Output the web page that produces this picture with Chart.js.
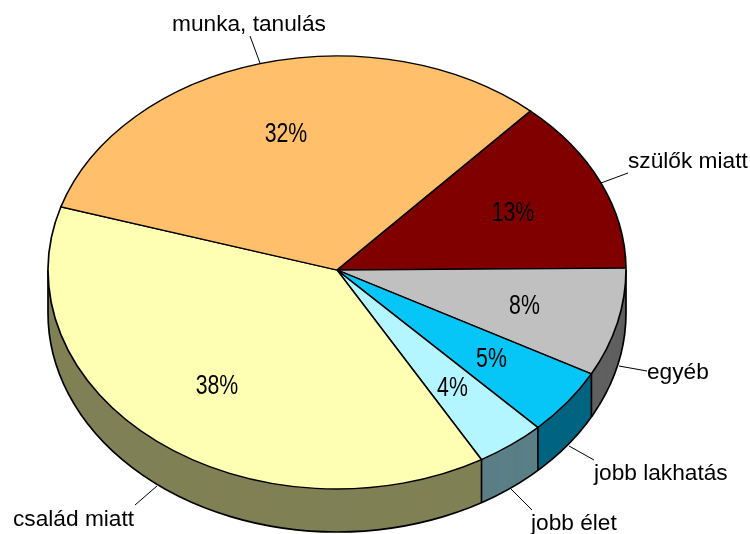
<!DOCTYPE html>
<html><head><meta charset="utf-8">
<style>html,body{margin:0;padding:0;background:#fff}#w{width:750px;height:534px}canvas{display:block}</style>
<script src="https://cdn.jsdelivr.net/npm/chart.js@4"></script>
</head><body><div id="w"><canvas id="c" width="750" height="534"></canvas></div>
<script>
const categories = ["szülők miatt","egyéb","jobb lakhatás","jobb élet","család miatt","munka, tanulás"];
const shares = [13.2,8.0,4.9,3.9,38.1,31.9];
const topColors = ["#800000","#C0C0C0","#05C6F6","#B4F6FF","#FFFFB3","#FFBF6B"];
const wallColors = ["#400000","#606060","#006480","#5A7F86","#808056","#806035"];
// label layout: [x, baseline, align]
const labelPos = [[628,168,"left"],[647,379,"left"],[594,480,"left"],[531,530,"left"],[13,526,"left"],[172,31,"left"]];
const leaders = [[628,173,601,183],[647,371,619,366],[594,460,569,446],[532,510,511,489],[135,505,157,486],[250,36,260,63]];
const pctPos = [[513,213],[524.5,306],[491.5,359],[452.5,388],[217,386],[286,134]];
const startAngle = 42, radiusX = 289, squashTop = 214/289, squashBottom = 219/289, depth = 43;

function applySquash(ctx, a, s){ ctx.translate(a.x,a.y); ctx.scale(1,s); ctx.translate(-a.x,-a.y); }

const pie3d = {
  id:"pie3d",
  beforeDatasetDraw(chart){
    const ctx = chart.ctx, arcs = chart.getDatasetMeta(0).data, a0 = arcs[0];
    // side wall: the library's own arcs, repeated downwards in the darker colours
    ctx.save();
    ctx.beginPath(); ctx.rect(0,a0.y,750,534-a0.y); ctx.clip();
    for(let d=depth; d>=1; d--){
      ctx.save();
      ctx.translate(0,d);
      applySquash(ctx,a0,squashBottom);
      arcs.forEach((arc,i)=>{
        const o = arc.options, bg=o.backgroundColor, bw=o.borderWidth;
        o.backgroundColor = wallColors[i]; o.borderWidth = 0;
        arc.draw(ctx);
        o.backgroundColor = bg; o.borderWidth = bw;
      });
      ctx.restore();
    }
    ctx.restore();
    // outline of the wall
    ctx.save();
    ctx.strokeStyle="#000"; ctx.lineWidth=1.7;
    ctx.save(); ctx.translate(0,depth); applySquash(ctx,a0,squashBottom);
    ctx.beginPath(); ctx.arc(a0.x,a0.y,a0.outerRadius,0,Math.PI); ctx.restore(); ctx.stroke();
    const ry = a0.outerRadius*squashBottom;
    ctx.beginPath();
    [0,Math.PI].forEach(t=>{
      const x=a0.x+a0.outerRadius*Math.cos(t), y=a0.y+ry*Math.sin(t);
      ctx.moveTo(x,y); ctx.lineTo(x,y+depth);
    });
    arcs.forEach(arc=>{
      const t=arc.endAngle, s=Math.sin(t);
      if(s>0){
        const x=a0.x+a0.outerRadius*Math.cos(t), y=a0.y+ry*s;
        ctx.moveTo(x,y); ctx.lineTo(x,y+depth);
      }
    });
    ctx.stroke();
    ctx.restore();
    // top face: far half slightly flatter than the near half (perspective)
    [[0,a0.y,squashTop],[a0.y,534-a0.y,squashBottom]].forEach(([y,h,s])=>{
      ctx.save();
      ctx.beginPath(); ctx.rect(0,y,750,h); ctx.clip();
      applySquash(ctx,a0,s);
      arcs.forEach(arc=>arc.draw(ctx));
      ctx.restore();
    });
    return false;
  },
  afterDraw(chart){
    const ctx = chart.ctx;
    ctx.save();
    ctx.strokeStyle="#000"; ctx.lineWidth=1; ctx.fillStyle="#000";
    leaders.forEach(l=>{ctx.beginPath();ctx.moveTo(l[0],l[1]);ctx.lineTo(l[2],l[3]);ctx.stroke();});
    ctx.font='22.7px "Liberation Sans"'; ctx.textBaseline="alphabetic";
    categories.forEach((c,i)=>{ctx.textAlign=labelPos[i][2];ctx.fillText(c,labelPos[i][0],labelPos[i][1]);});
    ctx.font='28px "Liberation Sans"'; ctx.textAlign="center"; ctx.textBaseline="middle";
    shares.forEach((v,i)=>{
      ctx.save();ctx.translate(pctPos[i][0],pctPos[i][1]);ctx.scale(0.76,1);
      ctx.fillText(Math.round(v)+"%",0,0);ctx.restore();
    });
    ctx.restore();
  }
};

new Chart(document.getElementById("c"),{
  type:"pie",
  data:{labels:categories,datasets:[{data:shares,backgroundColor:topColors,borderColor:"#000",borderWidth:1.7,borderJoinStyle:"miter",clip:false}]},
  options:{
    responsive:false,animation:false,events:[],
    rotation:startAngle,radius:radiusX,
    layout:{padding:{left:0,right:76,top:6,bottom:0}},
    plugins:{legend:{display:false},tooltip:{enabled:false},title:{display:false}}
  },
  plugins:[pie3d]
});
</script></body></html>
